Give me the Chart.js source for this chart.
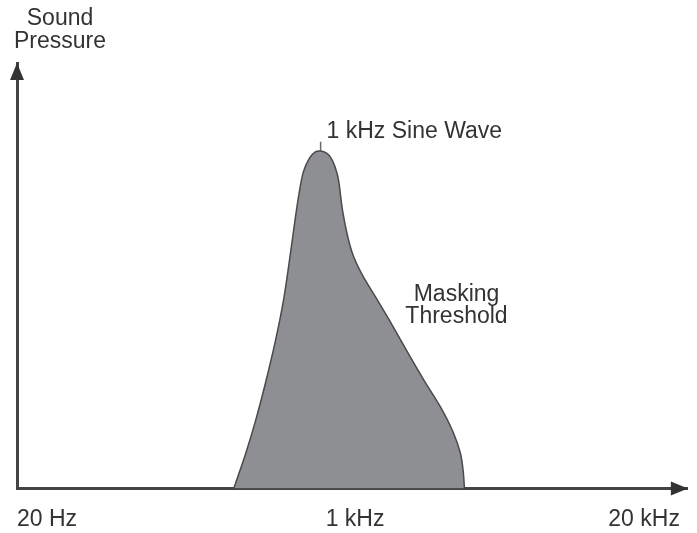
<!DOCTYPE html>
<html>
<head>
<meta charset="utf-8">
<script src="https://cdn.jsdelivr.net/npm/chart.js@4"></script>
<style>
  html, body { margin: 0; padding: 0; background: #fff; }
  #wrap { width: 697px; height: 533px; }
</style>
</head>
<body>
<div id="wrap"><canvas id="myChart"></canvas></div>
<script>
// schematic frequency axis: 0 = 20 Hz, 51 = 1 kHz, 100 = 20 kHz
const tickValues = [0, 51, 100];
const tickLabels = ['20 Hz', '1 kHz', '20 kHz'];

// masking threshold outline (position, sound pressure 0-100)
const thresholdX = [32.7, 34.5, 36.0, 37.5, 39.0, 40.2, 41.1, 41.9, 42.5, 43.2,
                    44.1, 45.0, 45.8, 46.7, 47.4, 48.0, 48.5, 49.1, 49.9, 50.8, 52.3,
                    54.4, 56.6, 59.0, 61.4, 63.9, 65.8, 66.9, 67.3, 67.5];
const thresholdY = [0, 8.2, 16.0, 24.9, 34.8, 44.2, 53.6, 62.6, 68.9, 74.4,
                    77.6, 79.1, 79.3, 78.8, 77.6, 75.5, 72.5, 65.4, 59.1, 54.4, 49.6,
                    44.2, 38.4, 31.8, 25.4, 19.1, 13.2, 8.2, 4.2, 0];

// the 1 kHz tone sitting at the top of the curve
const toneX = [45.8, 45.8];
const toneY = [76, 81.5];

const font = '"Liberation Sans", Arial, sans-serif';

const arrowsAndNotes = {
    id: 'arrowsAndNotes',
    afterDraw(chart) {
        const { ctx, chartArea: a, scales: { x, y } } = chart;
        ctx.save();
        ctx.fillStyle = '#333';

        // axis arrow heads
        ctx.beginPath();
        ctx.moveTo(a.left, a.top);
        ctx.lineTo(a.left - 7, a.top + 17);
        ctx.lineTo(a.left + 7, a.top + 17);
        ctx.closePath();
        ctx.fill();

        ctx.beginPath();
        ctx.moveTo(a.right, a.bottom);
        ctx.lineTo(a.right - 17, a.bottom - 7);
        ctx.lineTo(a.right - 17, a.bottom + 7);
        ctx.closePath();
        ctx.fill();

        // texts
        ctx.font = '23px ' + font;
        ctx.textBaseline = 'alphabetic';
        ctx.textAlign = 'center';
        ctx.fillText('Sound', a.left + 43, a.top - 38);
        ctx.fillText('Pressure', a.left + 43, a.top - 15);

        ctx.fillText('Masking', x.getPixelForValue(66.3), y.getPixelForValue(44.0));
        ctx.fillText('Threshold', x.getPixelForValue(66.3), y.getPixelForValue(38.8));

        ctx.textAlign = 'left';
        ctx.fillText('1 kHz Sine Wave', x.getPixelForValue(46.7), y.getPixelForValue(82.35));
        ctx.restore();
    }
};

const ctx = document.getElementById('myChart').getContext('2d');
const myChart = new Chart(ctx, {
    type: 'line',
    data: {
        datasets: [{
            label: 'Masking Threshold',
            data: thresholdX.map((v, i) => ({ x: v, y: thresholdY[i] })),
            borderColor: '#4a4a4a',
            borderWidth: 1.5,
            backgroundColor: '#8e8f92',
            fill: 'origin',
            pointRadius: 0,
            tension: 0.3
        }, {
            label: '1 kHz Sine Wave',
            data: toneX.map((v, i) => ({ x: v, y: toneY[i] })),
            borderColor: '#6a6a6a',
            borderWidth: 1.5,
            fill: false,
            pointRadius: 0
        }]
    },
    plugins: [arrowsAndNotes],
    options: {
        responsive: true,
        maintainAspectRatio: false,
        animation: false,
        layout: {
            padding: { left: 16, right: 9, top: 63, bottom: -17 }
        },
        plugins: {
            legend: { display: false },
            tooltip: { enabled: false }
        },
        scales: {
            x: {
                type: 'linear',
                min: 0,
                max: 101.2,
                z: 1,
                afterBuildTicks: (scale) => {
                    scale.ticks = tickValues.map(v => ({ value: v }));
                },
                grid: { display: false, drawTicks: false },
                border: { display: true, color: '#444', width: 3 },
                ticks: {
                    align: 'inner',
                    maxRotation: 0,
                    autoSkip: false,
                    padding: 17,
                    color: '#333',
                    font: { family: font, size: 23 },
                    callback: (value, index) => tickLabels[index]
                }
            },
            y: {
                type: 'linear',
                min: 0,
                max: 100,
                z: 1,
                grid: { display: false, drawTicks: false },
                border: { display: true, color: '#444', width: 3 },
                ticks: { display: false }
            }
        }
    }
});
</script>
</body>
</html>
